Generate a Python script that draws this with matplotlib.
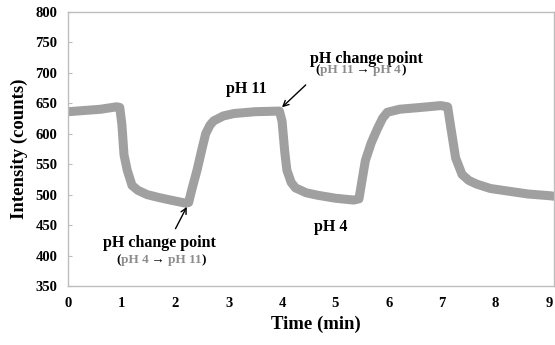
import matplotlib
matplotlib.use("Agg")
import matplotlib.pyplot as plt

# mean trace (the noise band is drawn as line width)
time_min = [0.0, 0.3, 0.6, 0.9, 0.96, 1.0, 1.04, 1.1, 1.19, 1.3, 1.47, 1.7, 1.91,
            2.19, 2.25, 2.3, 2.41, 2.5, 2.57, 2.65, 2.72, 2.9, 3.1, 3.5, 3.95,
            4.0, 4.05, 4.09, 4.17, 4.25, 4.45, 4.66, 5.0, 5.34, 5.44, 5.5, 5.56,
            5.67, 5.78, 5.88, 5.97, 6.2, 6.6, 6.97, 7.1, 7.16, 7.25, 7.37, 7.5,
            7.65, 7.9, 8.21, 8.6, 9.03, 9.1]
intensity = [636, 638, 640, 644, 643, 615, 565, 540, 515, 507, 500, 495, 491,
             486, 487, 505, 541, 575, 600, 614, 621, 629, 633, 636, 637,
             620, 570, 540, 520, 511, 503, 499, 494, 491, 493, 525, 556,
             585, 607, 625, 635, 640, 643, 646, 644, 610, 560, 533, 523,
             517, 510, 506, 501, 498, 497]

x_ticks = [0, 1, 2, 3, 4, 5, 6, 7, 8, 9]
y_ticks = [350, 400, 450, 500, 550, 600, 650, 700, 750, 800]

serif = ['Liberation Serif', 'DejaVu Serif']
plt.rcParams['font.family'] = serif
plt.rcParams['font.weight'] = 'bold'

line_gray = '#a0a0a0'
text_gray = '#8c8c8c'
frame_gray = '#bdbdbd'

fig = plt.figure(figsize=(5.55, 3.45), dpi=100)
ax = fig.add_axes([0.1234, 0.171, 0.8746, 0.795])

ax.plot(time_min, intensity, color=line_gray, lw=6.5, solid_joinstyle='round',
        solid_capstyle='butt')

ax.set_xlim(0, 9.09)
ax.set_ylim(350, 800)
ax.set_xticks(x_ticks)
ax.set_yticks(y_ticks)
ax.tick_params(axis='x', length=0, pad=8, labelsize=10.5)
ax.tick_params(axis='y', direction='in', length=3, color=frame_gray, pad=8,
               labelsize=10.5)
for t in ax.get_xticklabels() + ax.get_yticklabels():
    t.set_fontweight('bold')
for s in ax.spines.values():
    s.set_color(frame_gray)
    s.set_linewidth(1.0)

ax.set_xlabel('Time (min)', fontsize=13.5, fontweight='bold')
ax.set_ylabel('Intensity (counts)', fontsize=13.5, fontweight='bold')
ax.xaxis.set_label_coords(0.51, -0.108)
ax.yaxis.set_label_coords(-0.083, 0.5)

# annotations
ax.text(3.34, 673, 'pH 11', fontsize=11.5, fontweight='bold', ha='center', va='center')
ax.text(4.91, 446, 'pH 4', fontsize=11.5, fontweight='bold', ha='center', va='center')

ax.annotate('', xy=(2.24, 484), xytext=(1.98, 440),
            arrowprops=dict(arrowstyle='->', color='black', lw=1.0))
ax.text(1.71, 421, 'pH change point', fontsize=11.5, fontweight='bold',
        ha='center', va='center')

ax.annotate('', xy=(3.96, 640), xytext=(4.48, 683),
            arrowprops=dict(arrowstyle='->', color='black', lw=1.0))
ax.text(5.58, 723, 'pH change point', fontsize=11.5, fontweight='bold',
        ha='center', va='center')


def colored_line(x, y, parts):
    prev = ax.text(x, y, parts[0][0], color=parts[0][1], fontsize=9.5,
                   fontweight='bold', ha='left', va='center')
    for s, c in parts[1:]:
        prev = ax.annotate(s, xy=(1, 0.5), xycoords=prev, color=c, fontsize=9.5,
                           fontweight='bold', ha='left', va='center')


colored_line(0.89, 392.5, [('(', 'black'), ('pH 4', text_gray), (' \u2192 ', 'black'),
                           ('pH 11', text_gray), (')', 'black')])
colored_line(4.62, 703.6, [('(', 'black'), ('pH 11', text_gray), (' \u2192 ', 'black'),
                           ('pH 4', text_gray), (')', 'black')])

fig.savefig('out.png', dpi=100)
